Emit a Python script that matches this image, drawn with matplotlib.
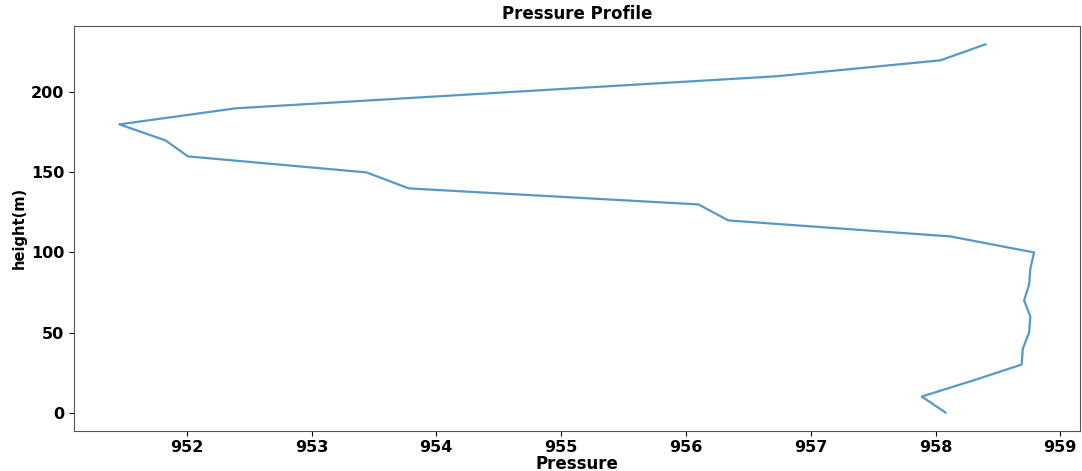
import matplotlib
matplotlib.use("Agg")
import matplotlib.pyplot as plt

# heights (m) and pressure readings
height = [0, 10, 20, 30, 40, 50, 60, 70, 80, 90, 100, 110,
          120, 130, 140, 150, 160, 170, 180, 190, 200, 210, 220, 230]
pressure = [958.08, 957.89, 958.30, 958.69, 958.70, 958.75, 958.76, 958.71,
            958.75, 958.76, 958.79, 958.12, 956.34, 956.10, 953.78, 953.44,
            952.01, 951.83, 951.46, 952.39, 954.55, 956.72, 958.04, 958.40]

plt.rcParams["font.weight"] = "bold"
plt.rcParams["axes.titleweight"] = "bold"
plt.rcParams["axes.labelweight"] = "bold"

fig = plt.figure(figsize=(10.82, 4.71), dpi=100)
ax = fig.add_axes([0.068, 0.085, 0.93, 0.86])
ax.plot(pressure, height, color="#1f77b4", alpha=0.75, linewidth=1.6)

ax.set_title("Pressure Profile", fontsize=12, pad=5)
ax.set_xlabel("Pressure", fontsize=12, labelpad=0)
ax.set_ylabel("height(m)", fontsize=10.5, labelpad=3)
ax.tick_params(labelsize=11.5, pad=3)
for s in ax.spines.values():
    s.set_color("#555555")

fig.savefig("out.png", dpi=100)
